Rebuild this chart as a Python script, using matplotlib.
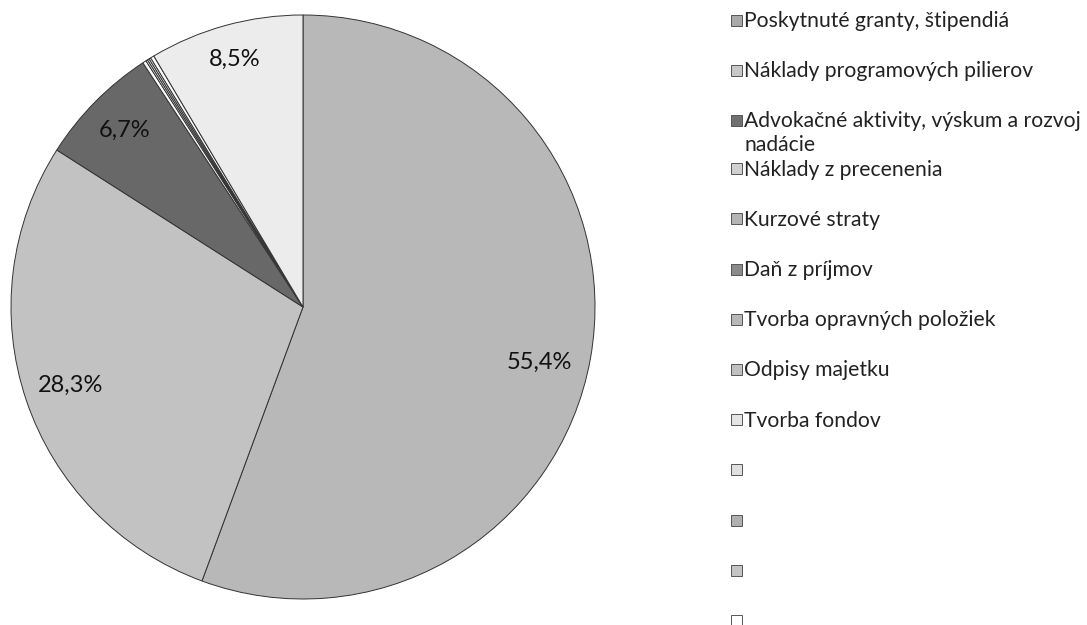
import matplotlib
matplotlib.use("Agg")
import numpy as np
import matplotlib.pyplot as plt
from matplotlib.patches import Rectangle

plt.rcParams['font.family'] = ['Lato', 'DejaVu Sans']

# Data
categories = [
    "Poskytnuté granty, štipendiá",
    "Náklady programových pilierov",
    "Advokačné aktivity, výskum a rozvoj\nnadácie",
    "Náklady z precenenia",
    "Kurzové straty",
    "Daň z príjmov",
    "Tvorba opravných položiek",
    "Odpisy majetku",
    "Tvorba fondov",
]
values = [55.4, 28.3, 6.7, 0.2, 0.1, 0.1, 0.1, 0.2, 8.5]
extra_legend = ["", "", "", ""]  # empty entries at the bottom of the legend

colors = ['#b8b8b8', '#c2c2c2', '#686868', '#fbfbfb', '#f4f4f4',
          '#f0f0f0', '#f6f6f6', '#fbfbfb', '#ececec']
marker_colors = ['#a8a8a8', '#c8c8c8', '#707070', '#d0d0d0', '#b4b4b4',
                 '#8a8a8a', '#b8b8b8', '#c0c0c0', '#e4e4e4']
extra_colors = ['#e0e0e0', '#b0b0b0', '#c4c4c4', '#ffffff']

W, H = 1087, 625
fig = plt.figure(figsize=(W / 100, H / 100), dpi=100)

# pie axes: centre (303, 307) px, radius 292 px
cx, cy, r = 303, 307, 292
ax = fig.add_axes([(cx - r) / W, (H - cy - r) / H, 2 * r / W, 2 * r / H])

total = sum(values)


def pct_label(p):
    v = p * total / 100
    if v < 1:
        return ""
    return f"{v:.1f}%".replace(".", ",")


wedges, texts, autotexts = ax.pie(
    values, colors=colors, startangle=90, counterclock=False,
    autopct=pct_label, pctdistance=0.85,
    wedgeprops=dict(edgecolor='#333333', linewidth=0.7),
    textprops=dict(fontsize=17, color='#111111'))

# nudge labels the way the original placed them (distance, angle shift in deg)
label_place = {0: (0.83, -3.0), 1: (0.84, 0.0), 2: (0.86, 0.0), 8: (0.88, 0.0)}
for i, (w, t) in enumerate(zip(wedges, autotexts)):
    if i in label_place:
        d, shift = label_place[i]
        ang = np.deg2rad((w.theta1 + w.theta2) / 2 + shift)
        t.set_position((d * np.cos(ang), d * np.sin(ang)))

ax.set_xlim(-1, 1)
ax.set_ylim(-1, 1)
ax.set_aspect('equal')
ax.axis('off')

# legend drawn by hand to follow the original spacing
y = 20
for label, col in zip(categories + extra_legend, marker_colors + extra_colors):
    fig.patches.append(Rectangle((731 / W, 1 - (y + 5.5) / H), 11 / W, 11 / H,
                                 transform=fig.transFigure, facecolor=col,
                                 edgecolor='#555555', linewidth=0.7))
    for k, line in enumerate(label.split("\n")):
        if line:
            fig.text(744 / W, 1 - (y + 7 + 23.5 * k) / H, line, fontsize=15.2,
                     color='#222222', va='baseline', ha='left')
    y += 50.2 - (2 if "\n" in label else 0)

fig.savefig("out.png", dpi=100)
